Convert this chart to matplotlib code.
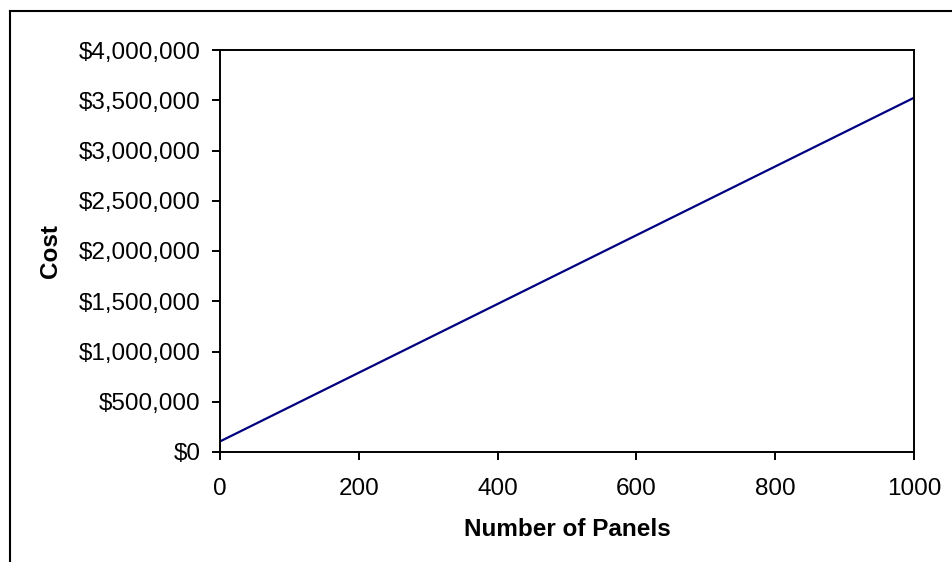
import matplotlib.pyplot as plt
from matplotlib.ticker import FuncFormatter
from matplotlib.lines import Line2D

#=======# データ #=======#
panels = [0, 100, 200, 300, 400, 500, 600, 700, 800, 900, 1000]
cost = [105000, 447000, 789000, 1131000, 1473000, 1815000, 2157000,
        2499000, 2841000, 3183000, 3525000]

plt.rcParams['font.family'] = ['Liberation Sans', 'DejaVu Sans']

fig = plt.figure(figsize=(9.52, 5.62), dpi=100)

# 外枠（左と上だけ見えている）
fig.add_artist(Line2D([10/952, 10/952], [0, 1 - 11/562], color='black', lw=1.5))
fig.add_artist(Line2D([10/952, 1], [1 - 11/562, 1 - 11/562], color='black', lw=1.5))

ax = fig.add_axes([220/952, 110/562, 694/952, 402/562])
ax.plot(panels, cost, color='#000080', lw=1.6)

ax.set_xlim(0, 1000)
ax.set_ylim(0, 4000000)
ax.set_xticks(range(0, 1001, 200))
ax.set_yticks(range(0, 4000001, 500000))
ax.yaxis.set_major_formatter(FuncFormatter(lambda v, p: '${:,.0f}'.format(v)))

for s in ax.spines.values():
    s.set_linewidth(1.4)
    s.set_color('black')
ax.tick_params(direction='out', length=6, width=1.4, labelsize=17.5)
ax.tick_params(axis='x', pad=13)
ax.tick_params(axis='y', pad=8)

ax.set_xlabel('Number of Panels', fontsize=17.5, fontweight='bold', labelpad=13)
ax.set_ylabel('Cost', fontsize=17.5, fontweight='bold', labelpad=12)

fig.savefig('out.png', dpi=100)
